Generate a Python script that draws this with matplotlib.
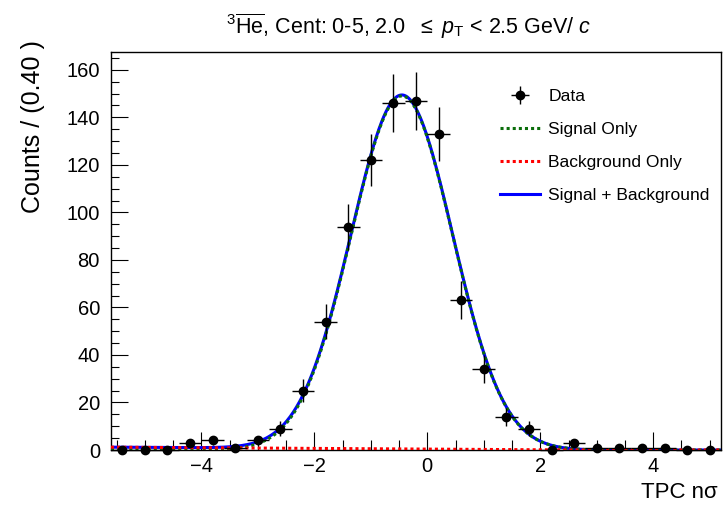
import matplotlib
matplotlib.use("Agg")
import matplotlib.pyplot as plt
import numpy as np
from matplotlib.ticker import MultipleLocator

plt.rcParams['font.family'] = ['Liberation Sans', 'DejaVu Sans']
plt.rcParams['mathtext.fontset'] = 'custom'
plt.rcParams['mathtext.rm'] = 'Liberation Sans'
plt.rcParams['mathtext.it'] = 'Liberation Sans:italic'
plt.rcParams['mathtext.sf'] = 'Liberation Sans'

# binned data, bin width 0.4
bin_centers = [-5.4, -5.0, -4.6, -4.2, -3.8, -3.4, -3.0, -2.6, -2.2, -1.8,
               -1.4, -1.0, -0.6, -0.2, 0.2, 0.6, 1.0, 1.4, 1.8, 2.2,
               2.6, 3.0, 3.4, 3.8, 4.2, 4.6, 5.0]
counts = [0, 0, 0, 3, 4, 1, 4, 9, 25, 54,
          94, 122, 146, 147, 133, 63, 34, 14, 9, 0,
          3, 1, 1, 1, 1, 0, 0]
bin_half = 0.2

# fitted model (gaussian signal + linear background)
sig_amp = 149.0
sig_mean = -0.45
sig_sigma = 0.90
bkg_a = 0.35
bkg_b = -0.15

x = np.linspace(-5.6, 5.2, 600)
signal = sig_amp * np.exp(-0.5 * ((x - sig_mean) / sig_sigma) ** 2)
background = np.clip(bkg_a + bkg_b * x, 0, None)
total = signal + background

fig = plt.figure(figsize=(7.25, 5.05), dpi=100)
ax = fig.add_axes([111 / 725, 55 / 505, 610 / 725, 398 / 505])

l_tot, = ax.plot(x, total, color='#0000ff', lw=2.2, zorder=2)
l_sig, = ax.plot(x, signal, color='#0b6e0b', lw=2.2, ls=(0, (1, 1)), zorder=3)
l_bkg, = ax.plot(x, background, color='#ff0000', lw=2.2, ls=(0, (1, 1)), zorder=4)

cnt = np.array(counts, dtype=float)
err = np.sqrt(cnt)
data = ax.errorbar(bin_centers, counts, yerr=err, xerr=bin_half, fmt='o',
                   color='black', ms=6, elinewidth=1, capsize=0, zorder=5,
                   clip_on=False)

ax.set_xlim(-5.6, 5.2)
ax.set_ylim(0, 167.5)
ax.xaxis.set_major_locator(MultipleLocator(2))
ax.xaxis.set_minor_locator(MultipleLocator(0.5))
ax.yaxis.set_major_locator(MultipleLocator(20))
ax.yaxis.set_minor_locator(MultipleLocator(5))
ax.tick_params(which='both', direction='in', top=False, right=False,
               labelsize=14.5, width=0.8)
ax.tick_params(axis='y', which='major', length=12, pad=8)
ax.tick_params(axis='y', which='minor', length=6)
ax.tick_params(axis='x', which='major', length=13, pad=5)
ax.tick_params(axis='x', which='minor', length=7)
for s in ax.spines.values():
    s.set_linewidth(1)

leg = ax.legend([data, l_sig, l_bkg, l_tot],
                ['Data', 'Signal Only', 'Background Only', 'Signal + Background'],
                loc='upper left', bbox_to_anchor=(382 / 610, 0.925),
                frameon=False, fontsize=12.6, handlelength=2.3,
                handletextpad=0.45, labelspacing=1.02, borderaxespad=0)

fig.text(409 / 725, 1 - 26 / 505,
         r'$^{3}\overline{\mathrm{He}}$, Cent: 0-5, 2.0  $\leq$ $p_{\mathrm{T}}$ < 2.5 GeV/ $c$',
         ha='center', va='center', fontsize=15.5)
fig.text(33 / 725, 1 - 40 / 505, 'Counts / (0.40 )', rotation=90,
         ha='center', va='top', fontsize=18)
fig.text(718 / 725, 1 - 492 / 505, 'TPC nσ', ha='right', va='center',
         fontsize=16)

fig.savefig('out.png', dpi=100)
